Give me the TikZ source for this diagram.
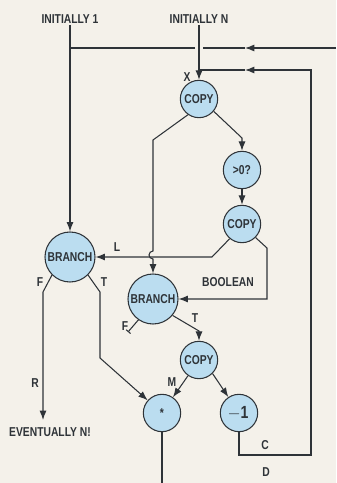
\documentclass[tikz,border=0pt]{standalone}
\usepackage{fontspec}
\setmainfont{Liberation Sans}[FakeStretch=0.8]
\usetikzlibrary{arrows.meta,positioning,calc}
\definecolor{bubble}{HTML}{BBDDF0}
\definecolor{ink}{HTML}{2E3338}
\definecolor{paper}{HTML}{F4F1EA}

\begin{document}
\begin{tikzpicture}[x=0.03cm,y=-0.03cm,
  >={Latex[length=8pt,width=6pt]},
  wire/.style={draw=ink,line width=0.9pt},
  op/.style={circle,draw=ink,line width=0.9pt,fill=bubble,inner sep=0pt,
    minimum size=1.12cm,text=ink,font=\fontsize{11}{13}\selectfont\bfseries},
  bigop/.style={op,minimum size=1.5cm},
  lbl/.style={text=ink,inner sep=1pt,font=\fontsize{11}{13}\selectfont\bfseries}]
  % page
  \fill[paper] (0,0) rectangle (336,483);
  \useasboundingbox (0,0) rectangle (336,483);

  % operator nodes
  \node[op] (copyA) at (199,99) {COPY};
  \node[op] (gtz) at (242,170) {>0?};
  \node[op] (copyB) at (242,224) {COPY};
  \node[bigop] (branchA) at (70,257) {BRANCH};
  \node[bigop] (branchB) at (153,299) {BRANCH};
  \node[op] (copyC) at (199,360) {COPY};
  \node[op] (mult) at (162,413) {*};
  \node[op,font=\fontsize{15}{17}\selectfont] (dec) at (239,413) {$\mathbf{-1}$};

  % texts
  \node[lbl] (initone) at (70,19) {INITIALLY 1};
  \node[lbl] (initn) at (199,19) {INITIALLY N};
  \node[lbl] (lx) at (187,77) {X};
  \node[lbl] (ll) at (117,247) {L};
  \node[lbl] (lbool) at (228,282) {BOOLEAN};
  \node[lbl] (lfa) at (40,282) {F};
  \node[lbl] (lta) at (104,282) {T};
  \node[lbl] (lfb) at (125,326) {F};
  \node[lbl] (ltb) at (195,318) {T};
  \node[lbl] (lr) at (35,383) {R};
  \node[lbl] (lm) at (172,382) {M};
  \node[lbl] (lc) at (265,445) {C};
  \node[lbl] (ld) at (266,472) {D};
  \node[lbl] (evn) at (50,432) {EVENTUALLY N!};

  % corners
  \coordinate (tr) at (336,48);
  \coordinate (ta) at (245,48);
  \coordinate (tg1) at (203,48);
  \coordinate (tg2) at (195,48);
  \coordinate (tl) at (70,48);
  \coordinate (dd) at (239,455);
  \coordinate (rb) at (311,455);
  \coordinate (rt) at (311,70);
  \coordinate (ra) at (245,70);
  \coordinate (rj) at (199,70);
  \coordinate (ka) at (153,140);
  \coordinate (hop) at (153,251);
  \coordinate (kb) at (242,138);
  \coordinate (kc) at (212,257);
  \coordinate (kd) at (267,248);
  \coordinate (ke) at (267,299);
  \coordinate (kf) at (43,292);
  \coordinate (ef) at (43,420);
  \coordinate (kg) at (100,292);
  \coordinate (kh) at (100,358);
  \coordinate (fs) at (128,332);
  \coordinate (ki) at (199,331);
  \coordinate (out) at (162,483);

  % inputs
  \draw[wire,->] (initn) -- (copyA);
  \draw[wire,->] (initone) -- (branchA);
  % loop back from D
  \draw[wire,->] (tr) -- (ta);
  \draw[wire] (ta) -- (tg1) (tg2) -- (tl);
  % loop back from C
  \draw[wire,->] (dec) -- (dd) -- (rb) -- (rt) -- (ra);
  \draw[wire] (ra) -- (rj);

  \draw[wire,->] (copyA.235) -- (ka) -- (hop)
    arc[start angle=90,end angle=270,radius=0.12cm] -- (branchB);
  \draw[wire,->] (copyA.-40) -- (kb) -- (gtz);
  \draw[wire,->] (gtz) -- (copyB);
  \draw[wire,->] (copyB.230) -- (kc) -- (branchA);
  \draw[wire,->] (copyB.-45) -- (kd) -- (ke) -- (branchB);
  \draw[wire,->] (branchA.225) -- (kf) -- (ef);
  \draw[wire,->] (branchA.-45) -- (kg) -- (kh) -- (mult);
  \draw[wire,-{Bar[width=5pt]}] (branchB.235) -- (fs);
  \draw[wire,->] (branchB.-40) -- (ki) -- (copyC);
  \draw[wire,->] (copyC.235) -- (mult);
  \draw[wire,->] (copyC.-45) -- (dec);
  \draw[wire] (mult) -- (out);
\end{tikzpicture}
\end{document}
